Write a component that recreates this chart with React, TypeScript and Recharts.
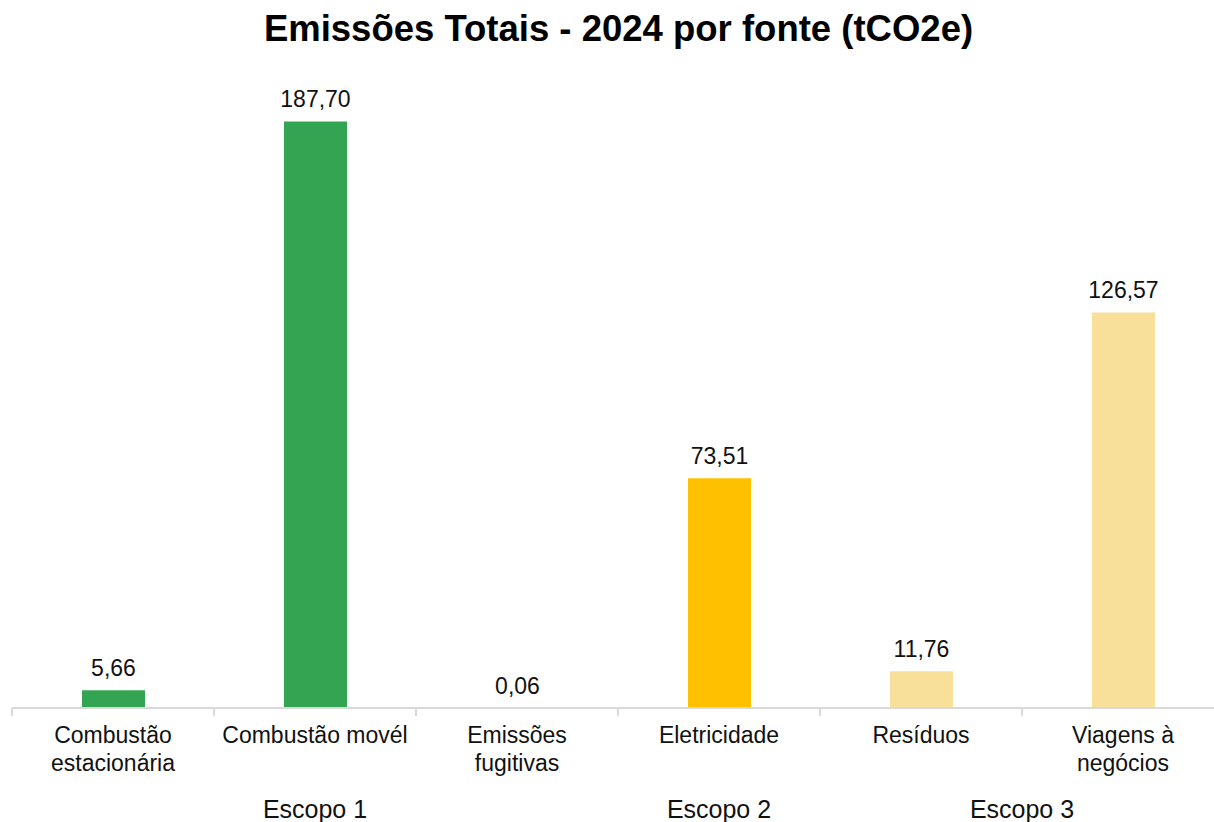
import React from 'react';
import { BarChart, Bar, XAxis, YAxis, Cell, LabelList } from 'recharts';

const categories = [
    'Combustão\nestacionária',
    'Combustão movél',
    'Emissões\nfugitivas',
    'Eletricidade',
    'Resíduos',
    'Viagens à\nnegócios',
];
const emissions = [5.66, 187.7, 0.06, 73.51, 11.76, 126.57];
const scopes = ['Escopo 1', 'Escopo 1', 'Escopo 1', 'Escopo 2', 'Escopo 3', 'Escopo 3'];

const scopeColors: { [key: string]: string } = {
    'Escopo 1': '#33a552',
    'Escopo 2': '#ffc000',
    'Escopo 3': '#f8e09b',
};

const FONT = '"Liberation Sans", Arial, sans-serif';

const chartData = categories.map((name, i) => ({ name, value: emissions[i], scope: scopes[i] }));

const fmt = (v: any) => Number(v).toFixed(2).replace('.', ',');

const CategoryTick = (props: any) => {
    const { x, y, payload, index } = props;
    const half = payload.offset || 101;
    const lines = String(payload.value).split('\n');
    const scope = scopes[index];
    const isGroupStart = index === 0 || scopes[index - 1] !== scope;
    const groupSize = scopes.filter(s => s === scope).length;
    const isLast = index === categories.length - 1;
    return (
        <g>
            <line x1={x - half} x2={x - half} y1={y} y2={y + 8} stroke="#d9d9d9" strokeWidth={2} />
            {isLast && <line x1={x + half} x2={x + half} y1={y} y2={y + 8} stroke="#d9d9d9" strokeWidth={2} />}
            {lines.map((line, i) => (
                <text key={i} x={x} y={y + 35 + i * 28} textAnchor="middle" fontSize={23} fill="#111" fontFamily={FONT}>
                    {line}
                </text>
            ))}
            {isGroupStart && (
                <text x={x + (groupSize - 1) * half} y={y + 110} textAnchor="middle" fontSize={25} fill="#111" fontFamily={FONT}>
                    {scope}
                </text>
            )}
        </g>
    );
};

export default function App() {
    return (
        <div style={{ position: 'absolute', left: 0, top: 0, width: 1214, height: 822, overflow: 'hidden', background: '#fff' }}>
            <div
                style={{
                    position: 'absolute',
                    left: 0,
                    top: 11,
                    width: 1237,
                    textAlign: 'center',
                    fontFamily: FONT,
                    fontWeight: 'bold',
                    fontSize: 36.5,
                    lineHeight: '36px',
                    color: '#000',
                }}
            >
                Emissões Totais - 2024 por fonte (tCO2e)
            </div>
            <BarChart
                width={1226}
                height={822}
                data={chartData}
                margin={{ top: 83, right: 2, left: 12, bottom: 0 }}
                barSize={63}
            >
                <XAxis
                    dataKey="name"
                    interval={0}
                    height={114}
                    tickLine={false}
                    tickSize={0}
                    tickMargin={0}
                    axisLine={{ stroke: '#d9d9d9', strokeWidth: 2 }}
                    tick={<CategoryTick />}
                />
                <YAxis hide domain={[0, 200]} />
                <Bar dataKey="value" isAnimationActive={false}>
                    {chartData.map((entry, index) => (
                        <Cell key={`cell-${index}`} fill={scopeColors[entry.scope]} />
                    ))}
                    <LabelList
                        dataKey="value"
                        position="top"
                        offset={14}
                        formatter={fmt}
                        style={{ fontSize: 23, fill: '#111', fontFamily: FONT }}
                    />
                </Bar>
            </BarChart>
        </div>
    );
}
